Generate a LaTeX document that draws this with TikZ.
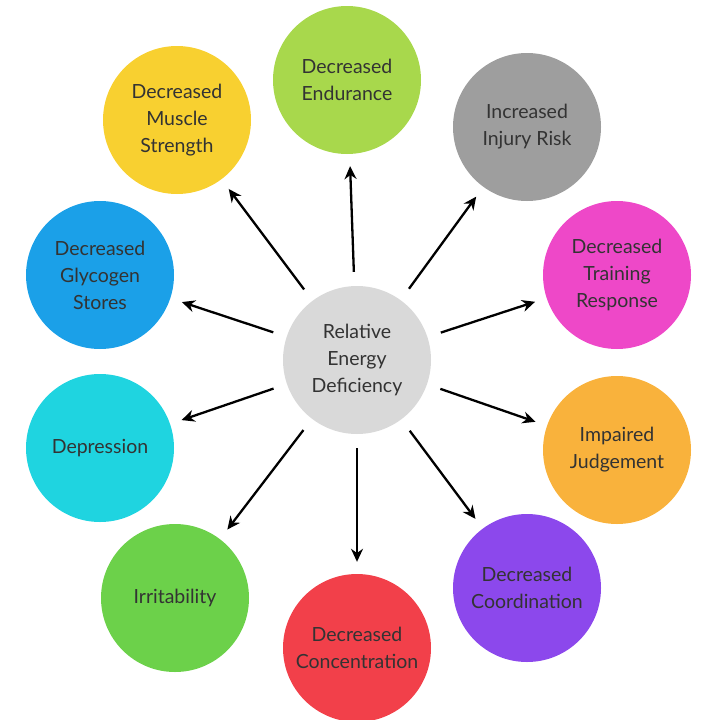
\documentclass[tikz,border=0pt]{standalone}
\usepackage{fontspec}
\setmainfont{Lato}
\usetikzlibrary{arrows.meta}
\begin{document}
\begin{tikzpicture}[x=1pt,y=-1pt,
  bub/.style={circle,minimum size=148pt,inner sep=0pt,align=center,text=black!80,font=\fontsize{19.5}{27}\selectfont},
  arr/.style={-{Stealth[length=13pt,width=12pt]},line width=2.3pt,shorten <=14pt,shorten >=12pt}]
\useasboundingbox (0,0) rectangle (720,720);
\node[bub,fill=black!15] (c) at (357,360) {Relative\\Energy\\Deficiency};
\node[bub,fill={rgb,255:red,168;green,216;blue,76}] (o1) at (347,80) {Decreased\\Endurance};
\node[bub,fill={rgb,255:red,158;green,158;blue,158}] (o2) at (527,127) {Increased\\Injury Risk};
\node[bub,fill={rgb,255:red,238;green,72;blue,200}] (o3) at (617,275) {Decreased\\Training\\Response};
\node[bub,fill={rgb,255:red,249;green,178;blue,60}] (o4) at (617,450) {Impaired\\Judgement};
\node[bub,fill={rgb,255:red,140;green,72;blue,236}] (o5) at (527,588) {Decreased\\Coordination};
\node[bub,fill={rgb,255:red,242;green,64;blue,74}] (o6) at (357,648) {Decreased\\Concentration};
\node[bub,fill={rgb,255:red,108;green,209;blue,74}] (o7) at (175,598) {Irritability};
\node[bub,fill={rgb,255:red,31;green,212;blue,224}] (o8) at (100,448) {Depression};
\node[bub,fill={rgb,255:red,27;green,160;blue,232}] (o9) at (100,275) {Decreased\\Glycogen\\Stores};
\node[bub,fill={rgb,255:red,248;green,208;blue,48}] (o10) at (177,120) {Decreased\\Muscle\\Strength};
\foreach \i in {1,...,10} \draw[arr] (c) -- (o\i);
\end{tikzpicture}
\end{document}
